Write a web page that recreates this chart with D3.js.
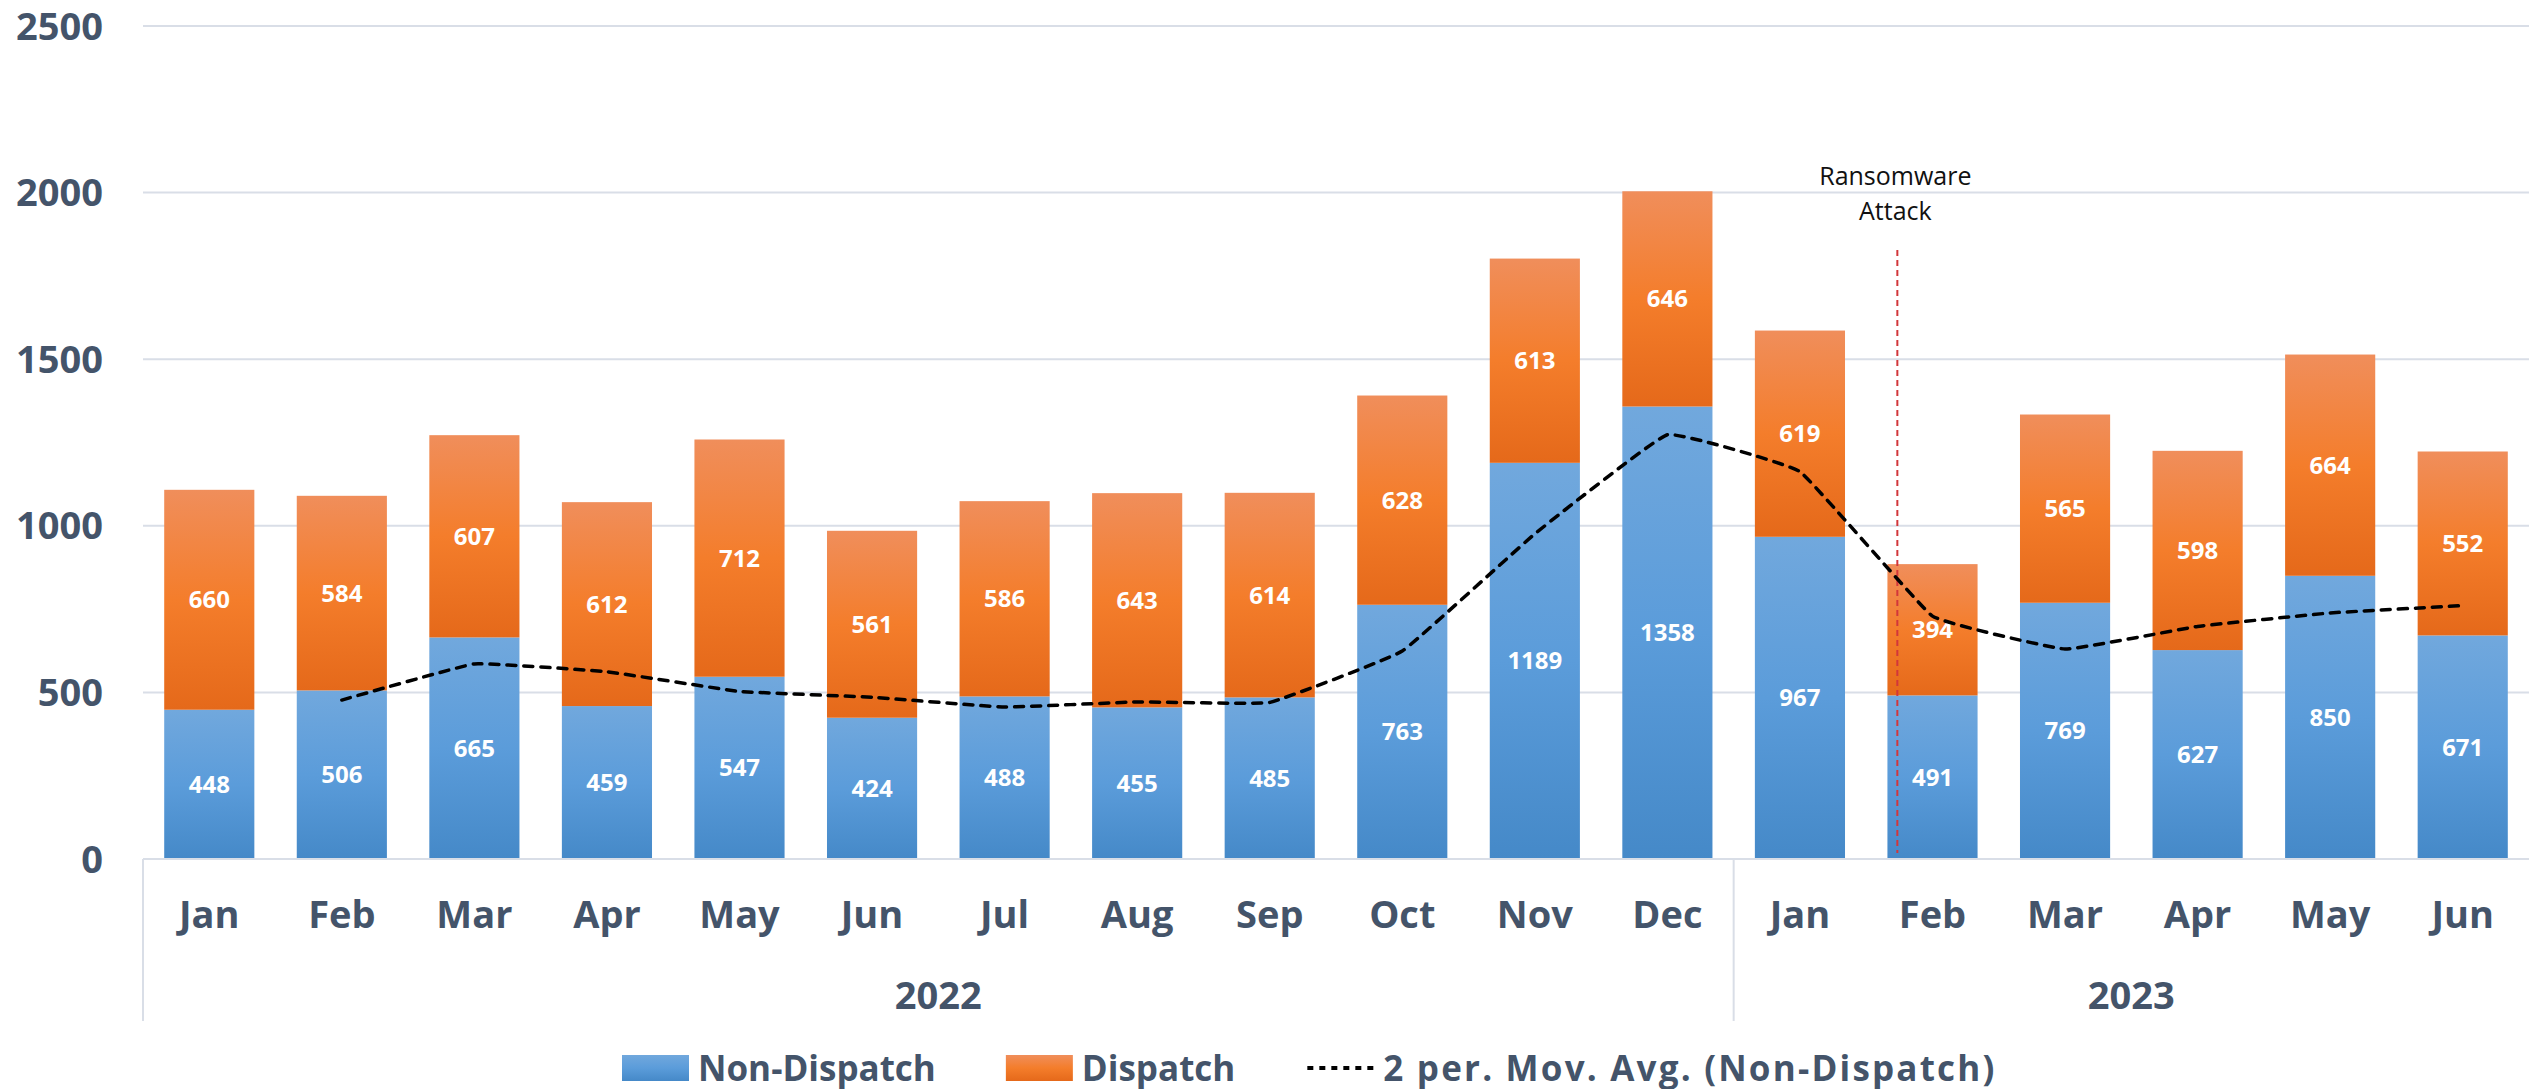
<!DOCTYPE html>
<html lang="en">
<head>
    <meta charset="UTF-8">
    <title>Non-Dispatch / Dispatch</title>
    <style>
        body {
            margin: 0;
            background: #fff;
        }

        svg text {
            font-family: 'Open Sans', 'DejaVu Sans', sans-serif;
        }
    </style>
</head>
<body>
<script src="https://cdnjs.cloudflare.com/ajax/libs/d3/7.8.5/d3.min.js"></script>
<script>
    const width = 2529;
    const height = 1089;

    // data
    const months = ['Jan', 'Feb', 'Mar', 'Apr', 'May', 'Jun', 'Jul', 'Aug', 'Sep', 'Oct', 'Nov', 'Dec',
        'Jan', 'Feb', 'Mar', 'Apr', 'May', 'Jun'];
    const years = ['2022', '2023'];
    const monthsPerYear = [12, 6];
    const nonDispatch = [448, 506, 665, 459, 547, 424, 488, 455, 485, 763, 1189, 1358, 967, 491, 769, 627, 850, 671];
    const dispatch = [660, 584, 607, 612, 712, 561, 586, 643, 614, 628, 613, 646, 619, 394, 565, 598, 664, 552];
    const movAvg = [null, 477, 585.5, 562, 503, 485.5, 456, 471.5, 470, 624, 976, 1273.5, 1162.5, 729, 630, 698, 738.5, 760.5];
    const yTicks = [0, 500, 1000, 1500, 2000, 2500];
    const seriesNames = ['Non-Dispatch', 'Dispatch', '2 per. Mov. Avg. (Non-Dispatch)'];
    const attackIndex = 13;
    const attackText = ['Ransomware', 'Attack'];

    const COLORS = {
        text: '#44546A',
        grid: '#D9DEE7',
        blue: ['#71A8DD', '#5B9CDA', '#4589C8'],
        orange: ['#F08E5B', '#F47D2B', '#E5691A'],
        marker: '#D2363A'
    };

    const M = {left: 143, right: 2529, top: 26, bottom: 859};

    const x = d3.scaleBand()
        .domain(d3.range(months.length))
        .range([M.left, M.right])
        .paddingInner(0.32)
        .paddingOuter(0.16);
    const step = x.step();
    const cx = i => x(i) + x.bandwidth() / 2;

    const y = d3.scaleLinear()
        .domain([0, 2500])
        .range([M.bottom, M.top]);

    const svg = d3.select('body')
        .append('svg')
        .attr('width', width)
        .attr('height', height);

    const defs = svg.append('defs');

    function gradient(id, stops) {
        const g = defs.append('linearGradient')
            .attr('id', id)
            .attr('x1', 0).attr('y1', 0)
            .attr('x2', 0).attr('y2', 1);
        stops.forEach((c, i) => {
            g.append('stop')
                .attr('offset', i / (stops.length - 1))
                .attr('stop-color', c);
        });
    }
    gradient('gBlue', COLORS.blue);
    gradient('gOrange', COLORS.orange);

    // gridlines
    svg.append('g')
        .selectAll('line')
        .data(yTicks)
        .join('line')
        .attr('x1', M.left)
        .attr('x2', M.right)
        .attr('y1', d => y(d))
        .attr('y2', d => y(d))
        .attr('stroke', COLORS.grid)
        .attr('stroke-width', 2);

    // y labels
    svg.append('g')
        .selectAll('text')
        .data(yTicks)
        .join('text')
        .attr('x', 103)
        .attr('y', d => y(d) + 13.5)
        .attr('text-anchor', 'end')
        .attr('font-size', 38)
        .attr('font-weight', 700)
        .attr('fill', COLORS.text)
        .text(d => d);

    // stacked bars
    const bars = svg.append('g');
    bars.selectAll('.nd')
        .data(nonDispatch)
        .join('rect')
        .attr('class', 'nd')
        .attr('x', (d, i) => x(i))
        .attr('width', x.bandwidth())
        .attr('y', d => y(d))
        .attr('height', d => y(0) - y(d))
        .attr('fill', 'url(#gBlue)');

    bars.selectAll('.dp')
        .data(dispatch)
        .join('rect')
        .attr('class', 'dp')
        .attr('x', (d, i) => x(i))
        .attr('width', x.bandwidth())
        .attr('y', (d, i) => y(nonDispatch[i] + d))
        .attr('height', (d, i) => y(nonDispatch[i]) - y(nonDispatch[i] + d))
        .attr('fill', 'url(#gOrange)');

    // attack marker
    const attackX = x(attackIndex) + x.bandwidth() * 0.11;
    svg.append('line')
        .attr('x1', attackX)
        .attr('x2', attackX)
        .attr('y1', 250)
        .attr('y2', y(0) - 6)
        .attr('stroke', COLORS.marker)
        .attr('stroke-width', 2)
        .attr('stroke-dasharray', '6,4');

    svg.append('g')
        .selectAll('text')
        .data(attackText)
        .join('text')
        .attr('x', attackX - 2)
        .attr('y', (d, i) => 185 + i * 35)
        .attr('text-anchor', 'middle')
        .attr('font-size', 25)
        .attr('fill', '#111')
        .text(d => d);

    // data labels
    const labels = svg.append('g')
        .attr('fill', '#fff')
        .attr('font-size', 24)
        .attr('font-weight', 700)
        .attr('text-anchor', 'middle');
    labels.selectAll('.lnd')
        .data(nonDispatch)
        .join('text')
        .attr('class', 'lnd')
        .attr('x', (d, i) => cx(i))
        .attr('y', d => y(d / 2) + 8.5)
        .text(d => d);
    labels.selectAll('.ldp')
        .data(dispatch)
        .join('text')
        .attr('class', 'ldp')
        .attr('x', (d, i) => cx(i))
        .attr('y', (d, i) => y(nonDispatch[i] + d / 2) + 8.5)
        .text(d => d);

    // moving average
    const line = d3.line()
        .defined(d => d != null)
        .x((d, i) => cx(i))
        .y(d => y(d))
        .curve(d3.curveCardinal.tension(0.75));
    svg.append('path')
        .datum(movAvg)
        .attr('d', line)
        .attr('fill', 'none')
        .attr('stroke', '#000')
        .attr('stroke-width', 3.5)
        .attr('stroke-linecap', 'round')
        .attr('stroke-dasharray', '9,8');

    // category axis
    const axisBottom = 1021;
    svg.append('line')
        .attr('x1', M.left).attr('x2', M.right)
        .attr('y1', y(0)).attr('y2', y(0))
        .attr('stroke', COLORS.grid)
        .attr('stroke-width', 2);

    let acc = 0;
    const yearBounds = monthsPerYear.map(n => {
        const b = [acc, acc + n];
        acc += n;
        return b;
    });
    const divider = yearBounds.map(b => M.left + b[0] * step);
    svg.append('g')
        .selectAll('line')
        .data(divider)
        .join('line')
        .attr('x1', d => d).attr('x2', d => d)
        .attr('y1', y(0)).attr('y2', axisBottom)
        .attr('stroke', COLORS.grid)
        .attr('stroke-width', 2);

    svg.append('g')
        .selectAll('text')
        .data(months)
        .join('text')
        .attr('x', (d, i) => cx(i))
        .attr('y', 928)
        .attr('text-anchor', 'middle')
        .attr('font-size', 38)
        .attr('font-weight', 700)
        .attr('fill', COLORS.text)
        .text(d => d);

    svg.append('g')
        .selectAll('text')
        .data(years)
        .join('text')
        .attr('x', (d, i) => M.left + (yearBounds[i][0] + yearBounds[i][1]) / 2 * step)
        .attr('y', 1009)
        .attr('text-anchor', 'middle')
        .attr('font-size', 38)
        .attr('font-weight', 700)
        .attr('fill', COLORS.text)
        .text(d => d);

    // legend
    const legend = svg.append('g');
    const ly = 1068;
    let lx = 622;
    seriesNames.forEach((name, i) => {
        if (i < 2) {
            legend.append('rect')
                .attr('x', lx)
                .attr('y', ly - 13)
                .attr('width', 67)
                .attr('height', 26)
                .attr('fill', i === 0 ? 'url(#gBlue)' : 'url(#gOrange)');
            lx += 76;
        } else {
            legend.append('line')
                .attr('x1', lx + 2).attr('x2', lx + 69)
                .attr('y1', ly).attr('y2', ly)
                .attr('stroke', '#000')
                .attr('stroke-width', 4)
                .attr('stroke-dasharray', '6,6');
            lx += 78;
        }
        const t = legend.append('text')
            .attr('x', lx)
            .attr('y', ly + 12.5)
            .attr('font-size', 35)
            .attr('font-weight', 700)
            .attr('fill', COLORS.text)
            .text(name);
        if (i === 2) {
            t.attr('textLength', 611).attr('lengthAdjust', 'spacing');
        }
        lx += t.node().getComputedTextLength() + 70;
    });
</script>
</body>
</html>
